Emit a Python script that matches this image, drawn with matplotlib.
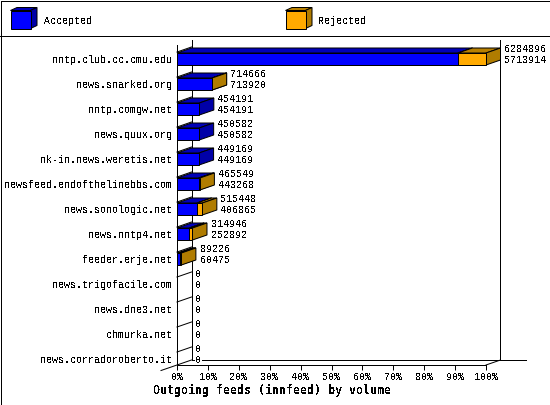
import matplotlib
matplotlib.use("Agg")
import matplotlib.pyplot as plt
from matplotlib.patches import Polygon, Rectangle

plt.rcParams['text.antialiased'] = False
plt.rcParams['font.family'] = ['Liberation Mono', 'DejaVu Sans Mono']

hosts = ["nntp.club.cc.cmu.edu", "news.snarked.org", "nntp.comgw.net", "news.quux.org",
         "nk-in.news.weretis.net", "newsfeed.endofthelinebbs.com", "news.sonologic.net",
         "news.nntp4.net", "feeder.erje.net", "news.trigofacile.com", "news.dne3.net",
         "chmurka.net", "news.corradoroberto.it"]
offered = [6284896, 714666, 454191, 450582, 449169, 465549, 515448, 314946, 89226, 0, 0, 0, 0]
accepted = [5713914, 713920, 454191, 450582, 449169, 443268, 406865, 252892, 60475, 0, 0, 0, 0]
x_ticks = [0, 10, 20, 30, 40, 50, 60, 70, 80, 90, 100]
title = "Outgoing feeds (innfeed) by volume"
legend_labels = ["Accepted", "Rejected"]

BLUE, BLUE_TOP, BLUE_SIDE = "#0000ff", "#0000b8", "#0000a8"
ORNG, ORNG_TOP, ORNG_SIDE = "#ffaa00", "#b88000", "#b07c00"
LW = 0.72
W, H = 550, 405

fig = plt.figure(figsize=(W / 100, H / 100), dpi=100)

# Overlay in pixel coordinates: frame, legend
ov = fig.add_axes([0, 0, 1, 1])
ov.set_xlim(0, W)
ov.set_ylim(H, 0)
ov.axis("off")
ov.add_patch(Rectangle((0.5, 0.5), W - 1, H - 1, fc="white", ec="black", lw=0.72, aa=False))
ov.plot([0, W], [35.5, 35.5], color="black", lw=0.72, aa=False)


def cube(a, x0, x1, y0, y1, dx, dy, front, top, side, z=3):
    a.add_patch(Polygon([(x0, y0), (x0 + dx, y0 + dy), (x1 + dx, y0 + dy), (x1, y0)],
                        fc=top, ec="black", lw=LW, zorder=z, clip_on=False))
    a.add_patch(Polygon([(x1, y0), (x1 + dx, y0 + dy), (x1 + dx, y1 + dy), (x1, y1)],
                        fc=side, ec="black", lw=LW, zorder=z, clip_on=False))
    a.add_patch(Polygon([(x0, y0), (x1, y0), (x1, y1), (x0, y1)],
                        fc=front, ec="black", lw=LW, zorder=z, clip_on=False))


cube(ov, 10.5, 30.5, 10.5, 28.5, 6.5, -3, BLUE, BLUE_TOP, BLUE_SIDE)
cube(ov, 285.5, 305.5, 10.5, 28.5, 6.5, -3, ORNG, ORNG_TOP, ORNG_SIDE)
ov.text(43.5, 20.5, legend_labels[0], fontsize=7.2, va="center", ha="left")
ov.text(318.5, 20.5, legend_labels[1], fontsize=7.2, va="center", ha="left")

# Main axes: the front plane of the 3D chart
ax = fig.add_axes([177 / W, 1 - 365 / H, 309 / W, 320 / H])
ax.patch.set_alpha(0)
ax.set_xlim(0, 100)
ax.set_ylim(12.52, -0.28)
for s in ("top", "right"):
    ax.spines[s].set_visible(False)
for s in ("left", "bottom"):
    ax.spines[s].set_linewidth(0.72)
    ax.spines[s].set_antialiased(False)

DX = 14.5 / 3.09
DY = -0.2
PAD = 4 / 3.09

ax.set_xticks(x_ticks)
ax.set_xticklabels([f"{t}%" for t in x_ticks], fontsize=7.2)
ax.set_yticks([i + 0.28 for i in range(len(hosts))])
ax.set_yticklabels(hosts, fontsize=7.2)
ax.tick_params(axis="x", length=3.6, width=0.72, pad=1.6)
ax.tick_params(axis="y", length=0, pad=3.4)
ax.set_xlabel(title, fontsize=8.4, fontweight="bold", family="DejaVu Sans Mono",
              labelpad=1, x=(272 - 177) / 309)

# Walls and floor
ln = dict(color="black", lw=0.72, aa=False, clip_on=False, zorder=1)
ax.plot([DX, DX], [-0.28 + DY, 12.52 + DY], **ln)
ax.plot([100 + DX, 100 + DX], [-0.28 + DY, 12.52 + DY], **ln)
ax.plot([DX, 100 + DX + 25 / 3.09], [12.52 + DY, 12.52 + DY], **ln)
ln2 = dict(ln, aa=True)
ax.plot([100, 100 + DX], [12.52, 12.52 + DY], **ln2)
ax.plot([-16 / 3.09, DX], [12.52 - DY * 16 / 14.5, 12.52 + DY], **ln2)
for r in range(len(hosts)):
    ax.plot([0, DX], [r, r + DY], **ln2)

# Bars and their value labels
peak = max(offered)
for r, (o, a) in enumerate(zip(offered, accepted)):
    pa = 100 * a / peak
    po = 100 * o / peak
    y0, y1 = r + 0.04, r + 0.52
    if o > 0:
        if o > a:
            cube(ax, pa, po, y0, y1, DX, DY, ORNG, ORNG_TOP, ORNG_SIDE, z=3)
        cube(ax, 0, pa, y0, y1, DX, DY, BLUE, BLUE_TOP,
             BLUE_SIDE if o == a else ORNG_SIDE, z=4 if o == a else 2)
        if o > a:
            ax.add_patch(Polygon([(0, y0), (pa, y0), (pa, y1), (0, y1)], fc=BLUE, ec="black",
                                 lw=LW, zorder=5, clip_on=False))
    tx = po + DX + PAD
    box = dict(fc="white", ec="none", pad=0.3)
    ax.text(tx, r - 0.12, str(o), fontsize=7.2, va="center", ha="left", zorder=6, bbox=box, clip_on=False)
    ax.text(tx, r + 0.31, str(a), fontsize=7.2, va="center", ha="left", zorder=6, bbox=box, clip_on=False)

fig.savefig("out.png", dpi=100)
